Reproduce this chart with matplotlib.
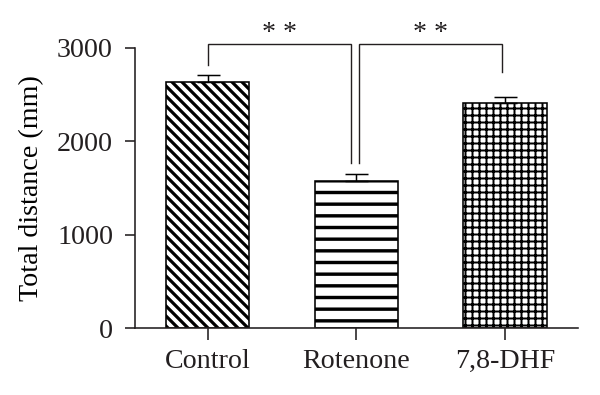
import matplotlib
matplotlib.use('Agg')
import matplotlib.pyplot as plt
import numpy as np

# 数据
groups = ['Control', 'Rotenone', '7,8-DHF']
means = [2640, 1570, 2410]
sems = [65, 75, 65]
y_ticks = [0, 1000, 2000, 3000]

# 显著性标记: (左端x, 右端x, 横线y, 左腿底部y, 右腿底部y)
sig_left = (0.0, 0.965, 3045, 2820, 1770)
sig_right = (1.015, 1.98, 3045, 1770, 2745)
sig_text = '* *'

# 高 dpi 让填充纹理的间距更接近原图
DPI = 210


def px(v):
    # 像素 -> 磅
    return v * 72 / DPI


ink = '#231f20'
plt.rcParams['font.family'] = ['Liberation Serif', 'DejaVu Serif']
plt.rcParams['font.size'] = px(28)
plt.rcParams['text.color'] = ink

fig = plt.figure(figsize=(600 / DPI, 395 / DPI), dpi=DPI)
ax = fig.add_axes([0.225, 0.1696, 0.738, 0.709])

x = np.arange(len(groups))
bslash = chr(92)
hatches = [bslash * 7, '---', '+++++']
hatch_lw = [px(3.2), px(3.4), px(2.0)]

for i in range(len(groups)):
    with plt.rc_context({'hatch.linewidth': hatch_lw[i]}):
        b = ax.bar(x[i], means[i], width=0.56, color='white', edgecolor='black',
                   linewidth=px(1.6), hatch=hatches[i], zorder=2)
    for p in b:
        if hasattr(p, 'set_hatch_linewidth'):
            p.set_hatch_linewidth(hatch_lw[i])

# 误差线 (只画上半部分)
ax.errorbar(x, means, yerr=[np.zeros(len(sems)), sems], fmt='none',
            ecolor='black', elinewidth=px(1.5), capsize=px(11.5),
            capthick=px(1.5), zorder=3)

# 显著性括号
for x0, x1, yt, yl, yr in (sig_left, sig_right):
    ax.plot([x0, x0, x1, x1], [yl, yt, yt, yr], color=ink, lw=px(1.4),
            clip_on=False, solid_joinstyle='miter')
    ax.text((x0 + x1) / 2, yt + 40, sig_text, ha='center', va='baseline',
            fontsize=px(28), clip_on=False)

ax.set_xlim(-0.49, 2.49)
ax.set_ylim(0, 3000)
ax.set_yticks(y_ticks)
ax.set_xticks(x)
ax.set_xticklabels(groups)

ax.spines['top'].set_visible(False)
ax.spines['right'].set_visible(False)
for s in ['left', 'bottom']:
    ax.spines[s].set_linewidth(px(1.6))
    ax.spines[s].set_color(ink)
ax.tick_params(axis='y', length=px(10), width=px(1.6), pad=px(12), colors=ink)
ax.tick_params(axis='x', length=px(12), width=px(1.6), pad=px(9), colors=ink)

ax.set_ylabel('Total distance (mm)')
ax.yaxis.set_label_coords(-0.205, 0.5)

plt.savefig('out.png', dpi=DPI)
